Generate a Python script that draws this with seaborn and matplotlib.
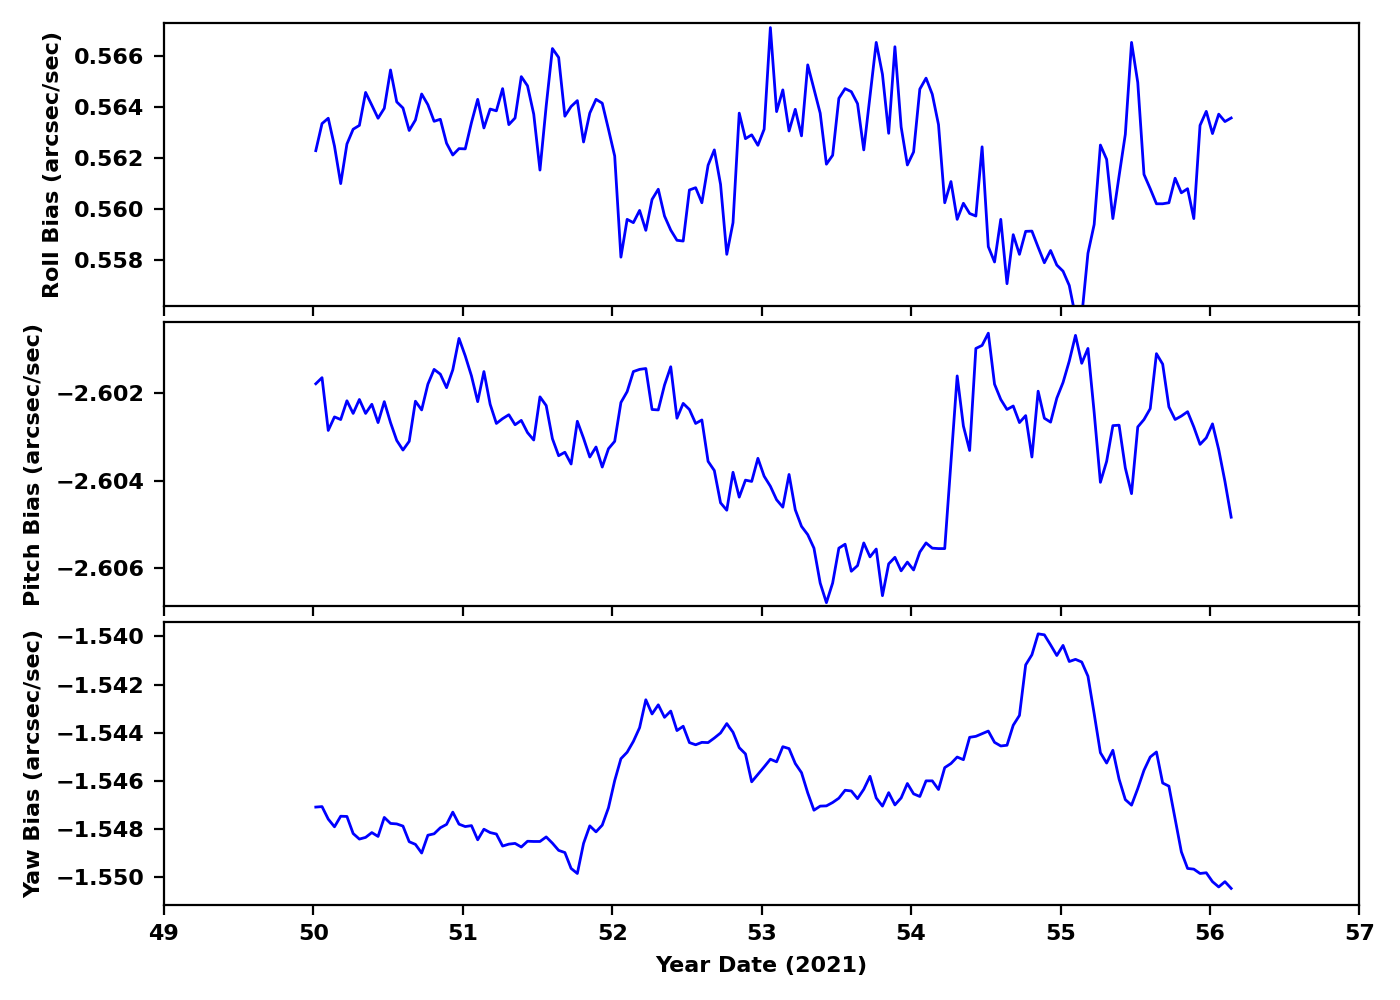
import numpy as np
import matplotlib
matplotlib.use("Agg")
import matplotlib.pyplot as plt
import seaborn as sns

# hourly samples, day-of-year 2021
start_day = 50.017
n_points = 148

roll_bias = [
    0.56230, 0.56336, 0.56357, 0.56248, 0.56101, 0.56256, 0.56314, 0.56329, 0.56458, 0.56408,
    0.56357, 0.56396, 0.56546, 0.56421, 0.56397, 0.56309, 0.56350, 0.56452, 0.56410, 0.56345,
    0.56353, 0.56259, 0.56213, 0.56238, 0.56237, 0.56340, 0.56431, 0.56319, 0.56393, 0.56386,
    0.56473, 0.56332, 0.56358, 0.56520, 0.56484, 0.56373, 0.56154, 0.56405, 0.56630, 0.56595,
    0.56365, 0.56403, 0.56426, 0.56264, 0.56377, 0.56431, 0.56416, 0.56314, 0.56209, 0.55813,
    0.55961, 0.55948, 0.55996, 0.55918, 0.56039, 0.56079, 0.55974, 0.55919, 0.55879, 0.55876,
    0.56076, 0.56085, 0.56026, 0.56173, 0.56233, 0.56098, 0.55824, 0.55948, 0.56377, 0.56277,
    0.56292, 0.56251, 0.56314, 0.56712, 0.56383, 0.56468, 0.56307, 0.56392, 0.56288, 0.56566,
    0.56471, 0.56377, 0.56177, 0.56212, 0.56435, 0.56473, 0.56461, 0.56414, 0.56233, 0.56442,
    0.56654, 0.56529, 0.56298, 0.56637, 0.56323, 0.56174, 0.56225, 0.56471, 0.56514, 0.56451,
    0.56332, 0.56026, 0.56109, 0.55961, 0.56024, 0.55984, 0.55974, 0.56245, 0.55854, 0.55794,
    0.55961, 0.55709, 0.55901, 0.55824, 0.55914, 0.55915, 0.55852, 0.55791, 0.55839, 0.55782,
    0.55758, 0.55702, 0.55580, 0.55580, 0.55828, 0.55941, 0.56252, 0.56196, 0.55964, 0.56131,
    0.56294, 0.56654, 0.56497, 0.56137, 0.56081, 0.56022, 0.56022, 0.56026, 0.56122, 0.56065,
    0.56081, 0.55964, 0.56329, 0.56384, 0.56297, 0.56373, 0.56344, 0.56358,
]

pitch_bias = [
    -2.60178, -2.60164, -2.60285, -2.60254, -2.60260, -2.60217, -2.60246, -2.60214, -2.60246, -2.60225,
    -2.60267, -2.60219, -2.60267, -2.60308, -2.60330, -2.60310, -2.60218, -2.60238, -2.60179, -2.60145,
    -2.60156, -2.60187, -2.60146, -2.60074, -2.60114, -2.60160, -2.60219, -2.60150, -2.60225, -2.60269,
    -2.60258, -2.60249, -2.60272, -2.60262, -2.60290, -2.60307, -2.60208, -2.60228, -2.60304, -2.60343,
    -2.60335, -2.60362, -2.60264, -2.60303, -2.60346, -2.60323, -2.60369, -2.60327, -2.60310, -2.60221,
    -2.60196, -2.60150, -2.60145, -2.60143, -2.60237, -2.60238, -2.60181, -2.60139, -2.60257, -2.60223,
    -2.60237, -2.60269, -2.60261, -2.60356, -2.60377, -2.60451, -2.60468, -2.60381, -2.60438, -2.60399,
    -2.60402, -2.60349, -2.60390, -2.60413, -2.60444, -2.60461, -2.60386, -2.60467, -2.60505, -2.60524,
    -2.60555, -2.60635, -2.60680, -2.60635, -2.60555, -2.60546, -2.60608, -2.60595, -2.60543, -2.60575,
    -2.60557, -2.60664, -2.60591, -2.60576, -2.60607, -2.60587, -2.60605, -2.60564, -2.60543, -2.60555,
    -2.60556, -2.60556, -2.60359, -2.60160, -2.60275, -2.60331, -2.60097, -2.60090, -2.60062, -2.60179,
    -2.60214, -2.60237, -2.60229, -2.60267, -2.60251, -2.60346, -2.60195, -2.60257, -2.60266, -2.60211,
    -2.60175, -2.60126, -2.60067, -2.60131, -2.60097, -2.60244, -2.60404, -2.60356, -2.60274, -2.60273,
    -2.60371, -2.60430, -2.60277, -2.60260, -2.60235, -2.60109, -2.60133, -2.60231, -2.60260, -2.60252,
    -2.60242, -2.60277, -2.60317, -2.60302, -2.60270, -2.60329, -2.60402, -2.60484,
]

yaw_bias = [
    -1.54709, -1.54707, -1.54759, -1.54791, -1.54747, -1.54748, -1.54819, -1.54842, -1.54835, -1.54815,
    -1.54831, -1.54752, -1.54777, -1.54779, -1.54788, -1.54853, -1.54864, -1.54900, -1.54826, -1.54820,
    -1.54795, -1.54781, -1.54730, -1.54780, -1.54790, -1.54786, -1.54845, -1.54801, -1.54815, -1.54821,
    -1.54871, -1.54863, -1.54860, -1.54875, -1.54851, -1.54852, -1.54852, -1.54833, -1.54859, -1.54889,
    -1.54898, -1.54964, -1.54985, -1.54860, -1.54787, -1.54812, -1.54784, -1.54712, -1.54599, -1.54508,
    -1.54481, -1.54436, -1.54379, -1.54263, -1.54322, -1.54284, -1.54336, -1.54310, -1.54391, -1.54373,
    -1.54441, -1.54450, -1.54440, -1.54441, -1.54422, -1.54401, -1.54362, -1.54398, -1.54462, -1.54488,
    -1.54604, -1.54573, -1.54542, -1.54510, -1.54521, -1.54458, -1.54466, -1.54528, -1.54566, -1.54650,
    -1.54722, -1.54705, -1.54704, -1.54690, -1.54672, -1.54639, -1.54642, -1.54674, -1.54635, -1.54581,
    -1.54671, -1.54705, -1.54649, -1.54700, -1.54671, -1.54611, -1.54654, -1.54665, -1.54600, -1.54600,
    -1.54636, -1.54545, -1.54528, -1.54501, -1.54512, -1.54419, -1.54415, -1.54404, -1.54393, -1.54440,
    -1.54455, -1.54452, -1.54369, -1.54328, -1.54118, -1.54076, -1.53989, -1.53993, -1.54035, -1.54079,
    -1.54037, -1.54104, -1.54095, -1.54106, -1.54165, -1.54321, -1.54483, -1.54526, -1.54473, -1.54593,
    -1.54678, -1.54701, -1.54632, -1.54556, -1.54501, -1.54480, -1.54609, -1.54622, -1.54759, -1.54895,
    -1.54964, -1.54967, -1.54985, -1.54982, -1.55019, -1.55041, -1.55019, -1.55047,
]

panel_labels = ["Roll Bias (arcsec/sec)", "Pitch Bias (arcsec/sec)", "Yaw Bias (arcsec/sec)"]
panel_ylims = [(0.5562, 0.5673), (-2.60687, -2.60037), (-1.55116, -1.53938)]
x_ticks = [49, 50, 51, 52, 53, 54, 55, 56, 57]


def fmt_tick(v, pos):
    # three decimals with a real minus sign, like the default formatter
    return f"{v:.3f}".replace("-", "\u2212")


def main():
    plt.rcParams['font.family'] = ['DejaVu Sans']
    plt.rcParams['font.weight'] = 'bold'
    plt.rcParams['axes.labelweight'] = 'bold'
    plt.rcParams['font.size'] = 8

    year_date = start_day + np.arange(n_points) / 24.0
    series = [roll_bias, pitch_bias, yaw_bias]

    fig, axes = plt.subplots(3, 1, figsize=(7, 5), dpi=200, sharex=True)
    fig.subplots_adjust(left=0.117, right=0.971, top=0.977, bottom=0.095, hspace=0.056)

    for ax, vals, label, ylim in zip(axes, series, panel_labels, panel_ylims):
        sns.lineplot(x=year_date, y=vals, ax=ax, color='blue', linewidth=1.0, estimator=None)
        ax.set_ylim(*ylim)
        ax.set_ylabel(label, fontsize=8, fontweight='bold')
        ax.yaxis.set_major_formatter(matplotlib.ticker.FuncFormatter(fmt_tick))
        ax.tick_params(labelsize=8)

    axes[-1].set_xlim(49, 57)
    axes[-1].set_xticks(x_ticks)
    axes[-1].set_xlabel("Year Date (2021)", fontsize=8, fontweight='bold')

    fig.savefig('out.png', dpi=200)
    plt.close(fig)


if __name__ == "__main__":
    main()
